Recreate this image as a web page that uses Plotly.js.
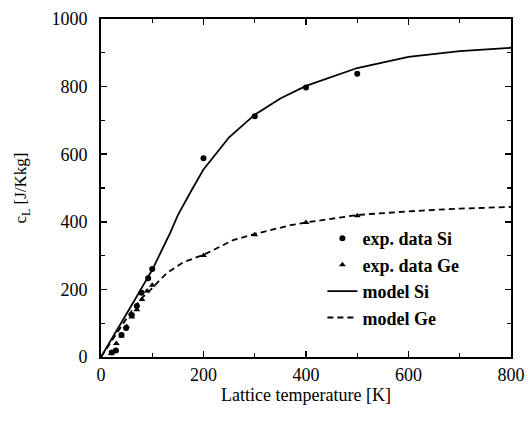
<!DOCTYPE html>
<html>
<head>
<meta charset="utf-8">
<script src="https://cdn.plot.ly/plotly-3.0.1.min.js"></script>
<style>html,body{margin:0;padding:0;background:#fff;}#chart{width:528px;height:421px;}</style>
</head>
<body>
<div id="chart"></div>
<script>
// Experimental data
const siExpT = [21, 29, 40, 49, 60, 70, 79, 92, 100, 200, 300, 400, 500];
const siExpC = [13, 19, 65, 86, 124, 151, 190, 233, 260, 588, 712, 797, 838];
const geExpT = [20, 30, 40, 50, 60, 70, 80, 90, 100, 200, 300, 400, 500];
const geExpC = [10, 40, 62, 90, 118, 140, 170, 195, 212, 300, 362, 398, 418];
// Model curves
const siModelT = [0, 20, 40, 60, 80, 100, 135, 150, 177, 200, 250, 300, 350, 400, 500, 600, 700, 800];
const siModelC = [0, 50, 102, 154, 206, 258, 367, 420, 494, 555, 650, 717, 765, 802, 855, 888, 905, 915];
const geModelT = [0, 20, 40, 60, 80, 96, 128, 161, 200, 258, 300, 370, 400, 500, 600, 700, 800];
const geModelC = [0, 45, 92, 137, 175, 198, 248, 281, 302, 346, 364, 390, 398, 420, 431, 439, 444];

const serif = 'Liberation Serif, Times New Roman, serif';

const traces = [
  {x: siExpT, y: siExpC, mode: 'markers', name: '<b>exp. data Si</b>',
   marker: {symbol: 'circle', size: 6, color: '#000'}},
  {x: geExpT, y: geExpC, mode: 'markers', name: '<b>exp. data Ge</b>',
   marker: {symbol: 'triangle-up', size: 6, color: '#000'}},
  {x: siModelT, y: siModelC, mode: 'lines', name: '<b>model Si</b>',
   line: {color: '#000', width: 1.8}},
  {x: geModelT, y: geModelC, mode: 'lines', name: '<b>model Ge</b>',
   line: {color: '#000', width: 1.8, dash: '6px,4px'}}
];

const axisCommon = {
  showgrid: false, zeroline: false, showline: true, linecolor: '#000', linewidth: 2,
  mirror: 'ticks', ticks: 'inside', ticklen: 6, tickwidth: 1.5, tickcolor: '#000',
  tickfont: {family: serif, size: 18, color: '#000'},
  minor: {dtick: 100, ticks: 'inside', ticklen: 4, tickwidth: 1.2, tickcolor: '#000', showgrid: false}
};

const layout = {
  width: 528, height: 421,
  margin: {l: 101, r: 17, t: 19, b: 64},
  paper_bgcolor: '#fff', plot_bgcolor: '#fff',
  showlegend: true,
  legend: {x: 0.54, y: 0.405, xanchor: 'left', yanchor: 'top',
    font: {family: serif, size: 18, color: '#000'}, bgcolor: 'rgba(0,0,0,0)',
    tracegroupgap: 0},
  xaxis: Object.assign({}, axisCommon, {
    range: [0, 800], dtick: 200, tick0: 0,
    title: {text: 'Lattice temperature [K]', font: {family: serif, size: 18, color: '#000'}, standoff: 4}
  }),
  yaxis: Object.assign({}, axisCommon, {
    range: [0, 1000], dtick: 200, tick0: 0, ticklabelstandoff: 8,
    title: {text: 'c<sub>L</sub> [J/Kkg]', font: {family: serif, size: 17, color: '#000'}, standoff: 20}
  })
};

Plotly.newPlot('chart', traces, layout, {staticPlot: true, displayModeBar: false});
</script>
</body>
</html>
